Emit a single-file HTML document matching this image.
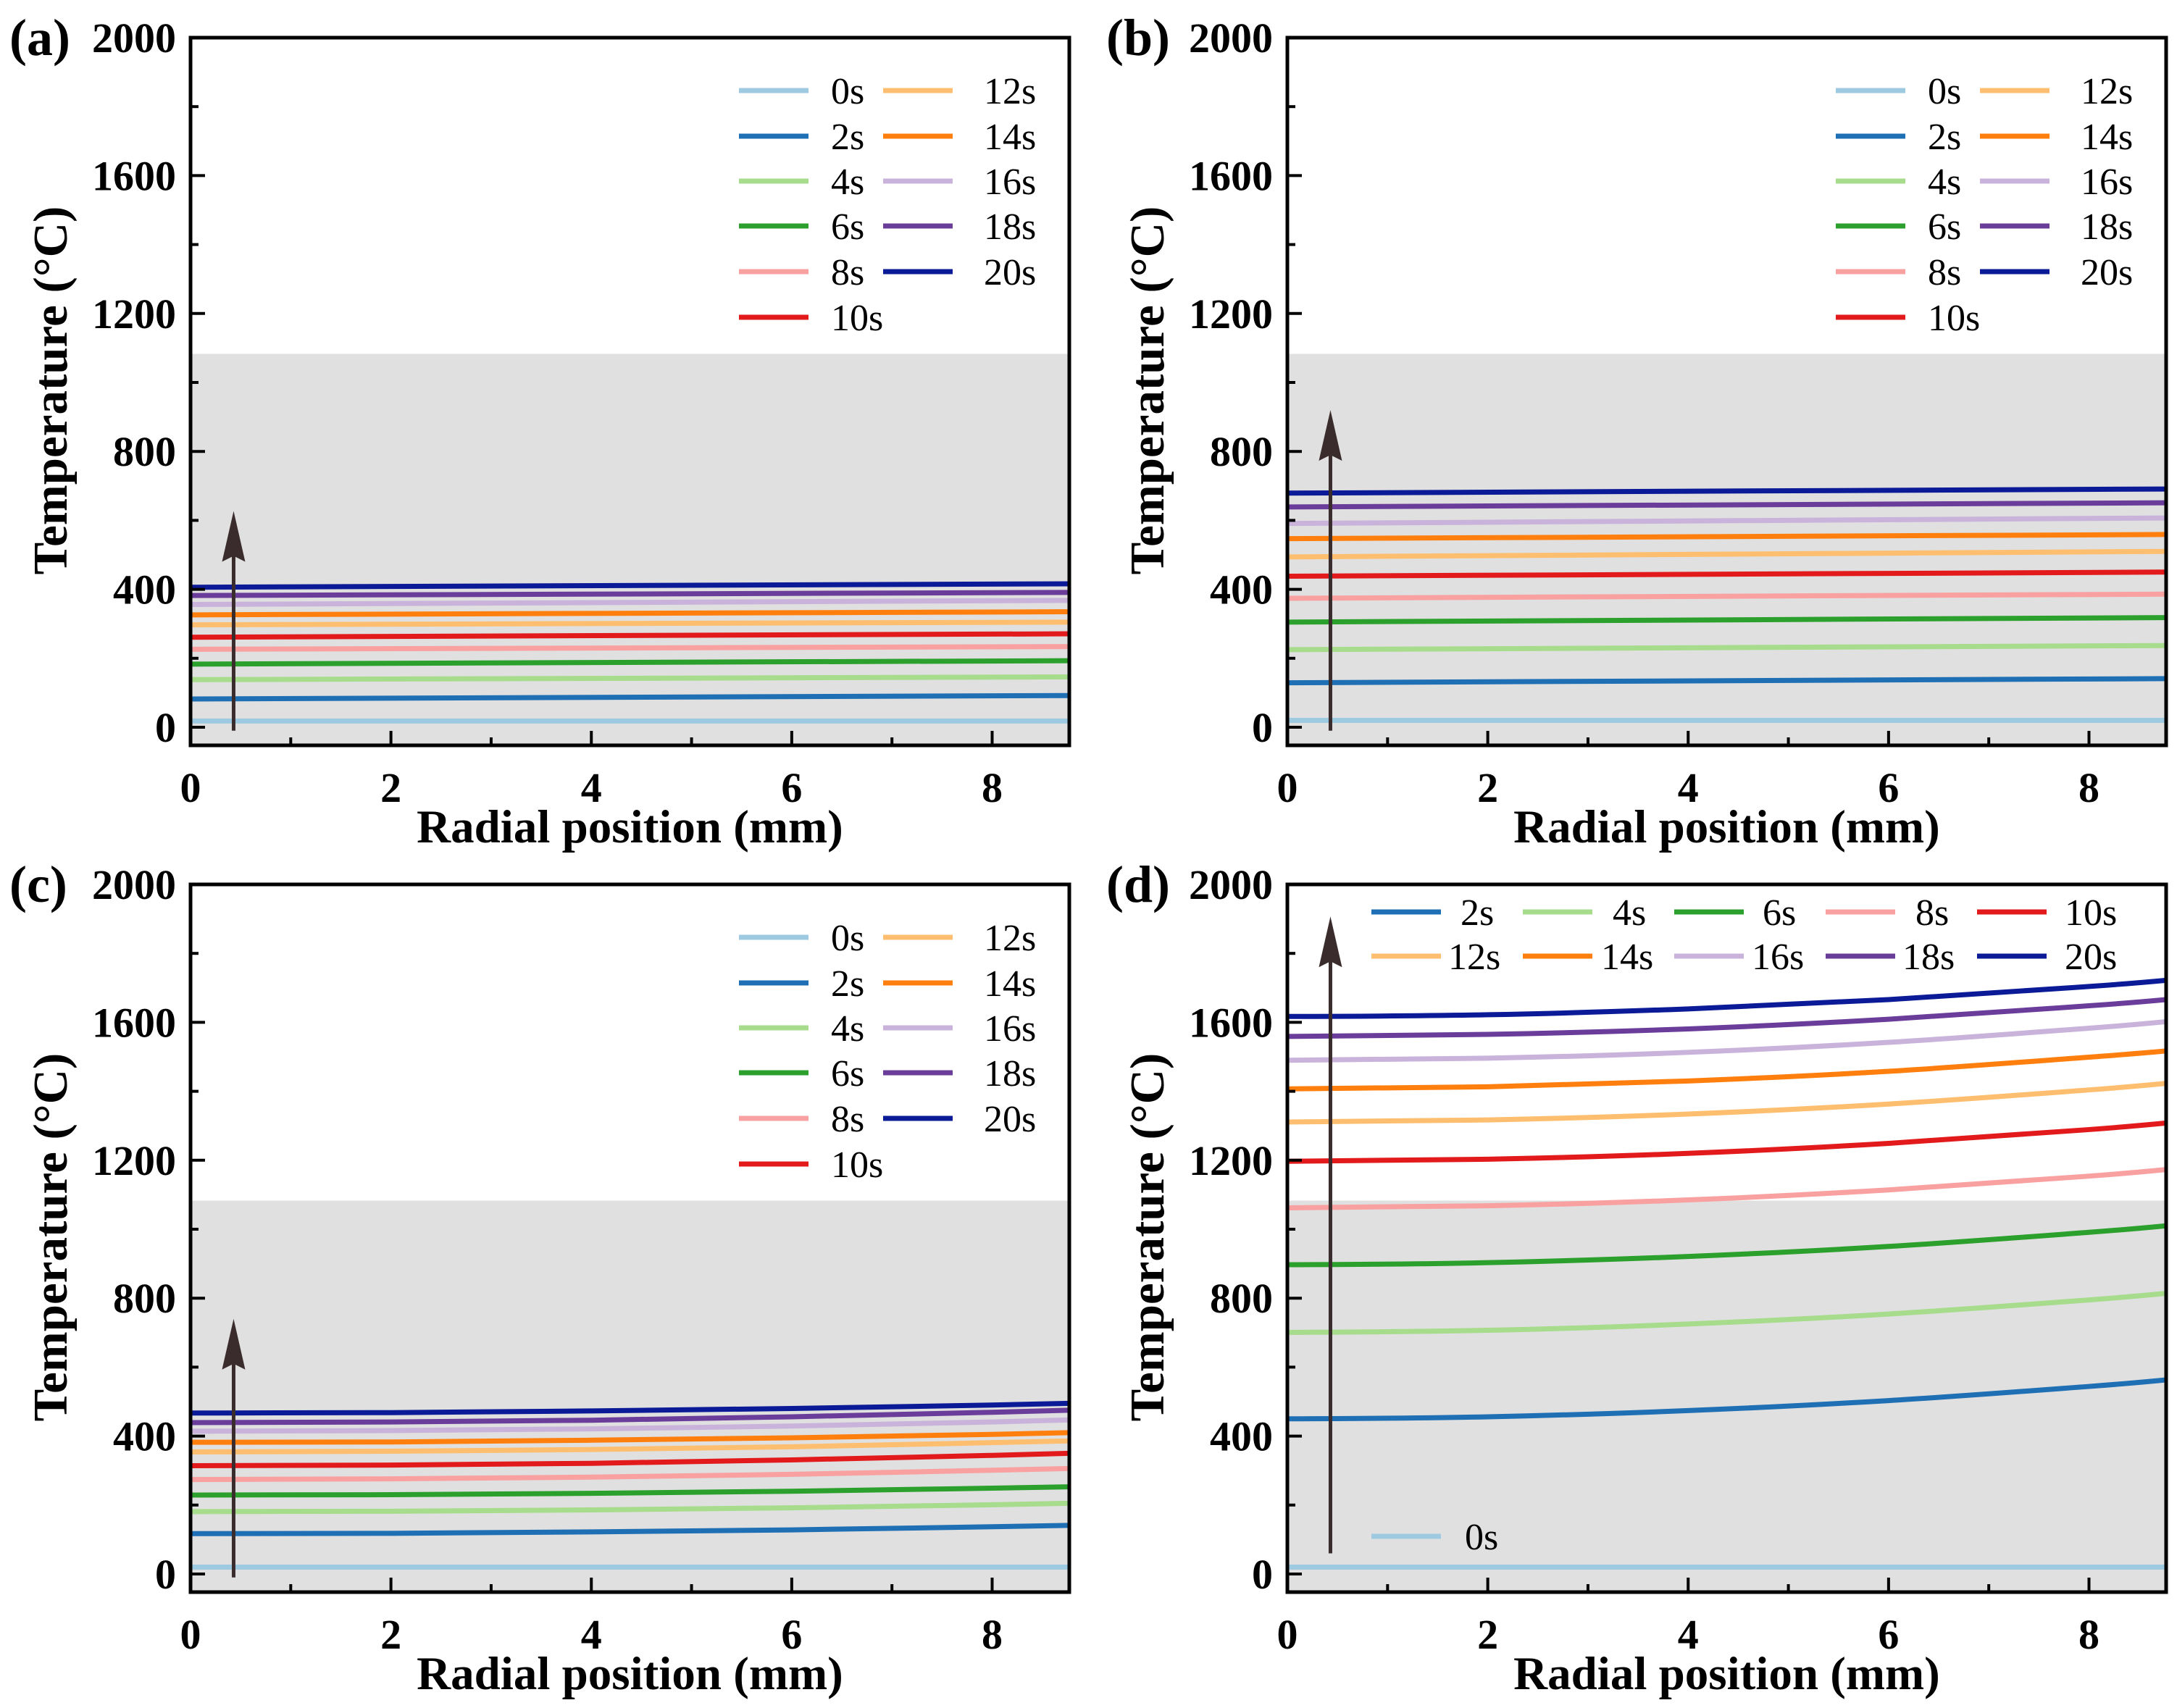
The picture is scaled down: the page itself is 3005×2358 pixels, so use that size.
<!DOCTYPE html>
<html><head><meta charset="utf-8">
<style>
html,body{margin:0;padding:0;background:#fff;}
svg{display:block;font-family:"Liberation Serif","Times New Roman",serif;}
</style></head>
<body>
<svg id="fig" width="3005" height="2358" viewBox="0 0 3005 2358" xmlns="http://www.w3.org/2000/svg"></svg>
<script>
const seriesLabels = ["0s","2s","4s","6s","8s","10s","12s","14s","16s","18s","20s"];
const seriesColors = ["#9ecae1","#1f6fb4","#a6dc8c","#2ca02c","#f9a0a0","#e31a1c","#fdbf6f","#ff7f0e","#c9b3db","#6a3d9a","#0b1a96"];
const xTicks = [0,2,4,6,8];
const yTicks = [0,400,800,1200,1600,2000];
const meltTemp = 1083;
// panel (a) & (b): near-linear, values at x = 0 and 8.77
const xFlat = [0, 8.77];
const dataA = [[18,18],[82,92],[138,146],[183,193],[226,234],[261,271],[297,305],[326,335],[356,368],[382,391],[406,416]];
const dataB = [[20,20],[129,141],[225,237],[305,318],[374,386],[438,450],[494,510],[547,559],[591,607],[639,651],[679,691]];
// panel (c) & (d): curved, values at x grid
const xCurve = [0,2,4,6,8,8.77];
const dataC = [[20,20,20,20,20,20],[117,118,122,128,137,141],[181,182,186,192,201,205],[229,230,234,240,249,253],[274,276,281,289,301,306],[314,316,321,331,344,350],[354,356,361,369,381,386],[382,383,388,395,405,410],[414,416,421,429,441,447],[439,441,446,456,469,475],[467,468,473,480,490,495]];
const dataD = [[20,20,20,20,20,20],[450,456,474,503,544,563],[701,707,725,754,795,814],[897,903,921,950,991,1010],[1062,1068,1085,1114,1154,1173],[1197,1203,1220,1249,1289,1308],[1311,1317,1334,1363,1404,1423],[1407,1413,1430,1458,1499,1517],[1490,1496,1513,1542,1583,1602],[1559,1565,1581,1609,1648,1666],[1617,1622,1639,1666,1704,1722]];
const arrowA = [0.43,-10,627];
const arrowB = [0.43,-10,920];
const arrowC = [0.43,-10,740];
const arrowD = [0.43,60,1907];

const NS="http://www.w3.org/2000/svg";
const svg=document.getElementById('fig');
function mk(tag,attrs,parent){const e=document.createElementNS(NS,tag);for(const k in attrs)e.setAttribute(k,attrs[k]);(parent||svg).appendChild(e);return e;}

function panel(id,L,T,xs,data,arrow,legendType){
  const R=L+1213, B=T+977;
  const y0=T+952, yTop=T;
  const xMax=8.77;
  const X=v=>L+v/xMax*(R-L);
  const Y=v=>y0-v/2000*(y0-yTop);
  const g=mk('g',{});
  
  
  const band=mk('rect',{x:L,y:Y(meltTemp),width:R-L,height:B-Y(meltTemp),fill:'#e0e0e0'},g);
  
  
  for(let s=0;s<data.length;s++){
    const pts=xs.map((x,i)=>X(x)+','+Y(data[s][i]));
    let d;
    if(xs.length>2){
      d='M'+pts[0];
      for(let i=1;i<xs.length;i++){const x0=X(xs[i-1]),x1=X(xs[i]);const ya=Y(data[s][i-1]),yb=Y(data[s][i]);
        const ym0 = i>1? (Y(data[s][i])-Y(data[s][i-2]))/(X(xs[i])-X(xs[i-2])) : (yb-ya)/(x1-x0)*0.3;
        const ym1 = i<xs.length-1? (Y(data[s][i+1])-Y(data[s][i-1]))/(X(xs[i+1])-X(xs[i-1])) : (yb-ya)/(x1-x0)*1.15;
        const dx=(x1-x0)/3;
        d+=' C'+(x0+dx)+','+(ya+ym0*dx)+' '+(x1-dx)+','+(yb-ym1*dx)+' '+x1+','+yb;}
    } else d='M'+pts.join(' L');
    const p=mk('path',{d:d,fill:'none',stroke:seriesColors[s],'stroke-width':7},g);
    
    
  }
  const ax=X(arrow[0]), ab=Y(arrow[1]), at=Y(arrow[2]);
  const sh=mk('line',{x1:ax,y1:ab,x2:ax,y2:at+60,stroke:'#3a2c2c','stroke-width':5},g);
  
  
  const ah=mk('polygon',{points:(ax-16)+','+(at+70)+' '+ax+','+at+' '+(ax+16)+','+(at+70)+' '+ax+','+(at+62),fill:'#3a2c2c'},g);
  
  
  const fr=mk('rect',{x:L,y:T,width:R-L,height:B-T,fill:'none',stroke:'#000','stroke-width':5},g);
  
  
  for(let v=0;v<=8;v++){const major=v%2===0;mk('line',{x1:X(v),x2:X(v),y1:B,y2:B-(major?20:11),stroke:'#000','stroke-width':4},g);}
  for(const v of xTicks){const t=mk('text',{x:X(v),y:B+78,'font-size':58,'font-weight':'bold','text-anchor':'middle'},g);t.textContent=v;
    }
  for(let v=0;v<=2000;v+=200){const major=v%400===0;mk('line',{x1:L,x2:L+(major?20:11),y1:Y(v),y2:Y(v),stroke:'#000','stroke-width':4},g);}
  for(const v of yTicks){const t=mk('text',{x:L-20,y:Y(v)+20,'font-size':58,'font-weight':'bold','text-anchor':'end'},g);t.textContent=v;
    }
  const xt=mk('text',{x:(L+R)/2,y:B+134,'font-size':65,'font-weight':'bold','text-anchor':'middle'},g);xt.textContent='Radial position (mm)';
  
  const cy=T+487;
  const yt=mk('text',{x:L-193,y:cy+22,'font-size':67,'font-weight':'bold','text-anchor':'middle',transform:'rotate(-90 '+(L-193)+' '+cy+')'},g);yt.textContent='Temperature (°C)';
  
  const pl=mk('text',{x:L-250,y:T+24,'font-size':72,'font-weight':'bold'},g);pl.textContent='('+id+')';
  
  const lg=mk('g',{},g);
  
  
  function entry(s,lx,ly,tx){
    const e=mk('g',{},lg);
    
    
    mk('line',{x1:lx,x2:lx+96,y1:ly,y2:ly,stroke:seriesColors[s],'stroke-width':7},e);
    const t=mk('text',{x:tx,y:ly+18,'font-size':52},e);t.textContent=seriesLabels[s];
  }
  if(legendType==='two-col'){
    const rows=[T+73,T+136,T+198,T+260,T+323,T+386];
    for(let s=0;s<=5;s++) entry(s,L+757,rows[s],L+884);
    for(let s=6;s<=10;s++) entry(s,L+956,rows[s-6],L+1095);
  } else {
    const lx=[1893,2102,2311,2520,2729];
    const t1=[2016,2226,2433,2644,2850];
    const t2=[1999,2210,2418,2626,2850];
    for(let i=0;i<5;i++){entry(i+1,lx[i],T+38,t1[i]);entry(i+6,lx[i],T+99,t2[i]);}
    entry(0,1893,T+900,2022);
  }
}
panel('a',263,52,xFlat,dataA,arrowA,'two-col');
panel('b',1777,52,xFlat,dataB,arrowB,'two-col');
panel('c',263,1221,xCurve,dataC,arrowC,'two-col');
panel('d',1777,1221,xCurve,dataD,arrowD,'five-col');
</script>
</body></html>
